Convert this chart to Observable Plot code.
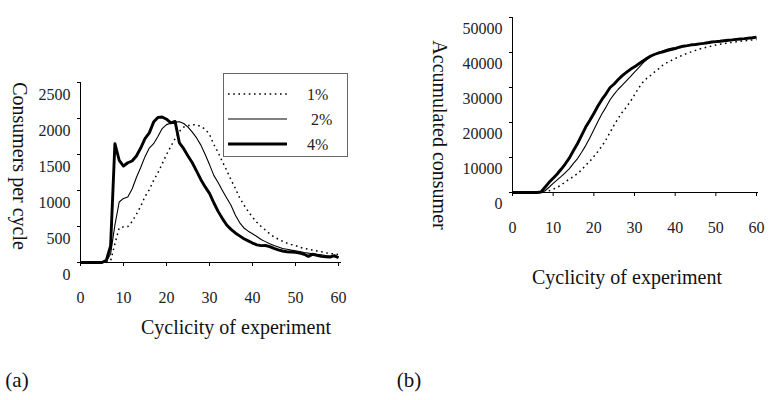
<!DOCTYPE html>
<html>
<head>
<meta charset="utf-8">
<script src="https://cdn.jsdelivr.net/npm/d3@7"></script>
<script src="https://cdn.jsdelivr.net/npm/@observablehq/plot@0.6"></script>
<style>
  body { margin: 0; background: #fff; }
  #fig { position: relative; width: 773px; height: 400px; background: #fff;
         font-family: "Liberation Serif", "Times New Roman", serif; color: #111; overflow: hidden; }
  #fig svg { font-family: "Liberation Serif", "Times New Roman", serif; }
  #fig svg text { font-family: "Liberation Serif", "Times New Roman", serif; }
  .abs { position: absolute; }
  .title { position: absolute; transform: translate(-50%, -50%); white-space: nowrap; font-size: 20px; }
  .vtitle { position: absolute; transform: translate(-50%, -50%); white-space: nowrap; font-size: 20px;
            writing-mode: vertical-rl; }
  .tag { position: absolute; transform: translate(-50%, -50%); font-size: 21px; }
</style>
</head>
<body>
<div id="fig">
  <div id="plotA" class="abs" style="left:0;top:0"></div>
  <div id="plotB" class="abs" style="left:386px;top:0"></div>
  <div id="legendA" class="abs" style="left:223px;top:73px"></div>
  <div class="title" style="left:236px;top:327px">Cyclicity of experiment</div>
  <div class="title" style="left:627px;top:277px">Cyclicity of experiment</div>
  <div class="vtitle" style="left:19px;top:166px">Consumers per cycle</div>
  <div class="vtitle" style="left:439px;top:135px">Accumulated consumer</div>
  <div class="tag" style="left:17px;top:380px">(a)</div>
  <div class="tag" style="left:409px;top:380px">(b)</div>
</div>
<script>
// Experiment cycles 0..60
const cycles = d3.range(0, 61);

// Consumers per cycle for each share
const perCycle1 = [0,0,0,0,0,0,0,20,260,480,495,500,570,670,780,917,1010,1140,1245,1370,1500,1610,1720,1820,1880,1900,1915,1910,1890,1850,1780,1640,1530,1400,1280,1150,1030,900,800,710,630,560,500,450,400,355,325,295,270,250,236,212,195,185,172,160,150,135,125,118,111];
const perCycle2 = [0,0,0,0,0,0,10,120,520,840,890,910,1020,1180,1320,1470,1590,1650,1750,1860,1915,1935,1950,1955,1930,1880,1810,1730,1630,1500,1360,1210,1110,1000,895,795,660,555,480,435,400,360,320,290,260,235,215,195,185,172,162,152,140,130,122,115,108,97,90,82,74];
const perCycle4 = [0,0,0,0,0,0,30,230,1650,1420,1340,1385,1410,1480,1590,1720,1800,1950,2015,2020,1990,1940,1960,1660,1580,1480,1385,1270,1150,1050,960,830,710,610,520,460,410,370,330,300,270,245,235,236,220,195,175,160,150,145,140,130,115,85,115,100,85,80,75,95,65];

// Accumulated consumers for each share
const accum1 = [0,0,0,0,0,0,0,0,150,500,900,1500,2100,3100,3800,4600,5400,6500,7800,8900,10300,11700,13300,15100,17200,19300,21200,22950,24400,26000,27900,29800,31400,32600,33500,34500,35400,36400,37100,37700,38300,38800,39300,39800,40200,40600,41000,41300,41600,41850,42150,42350,42550,42750,42900,43050,43200,43350,43450,43600,43700];
const accum2 = [0,0,0,0,0,0,0,50,500,1500,2600,3600,4600,5700,6800,8300,9700,11500,13400,15600,17900,20300,22500,24400,26500,28100,29500,30700,31900,33100,34400,35600,36900,38000,38800,39500,40100,40500,40900,41200,41400,41650,41850,42000,42150,42300,42400,42550,42700,42850,43000,43100,43250,43400,43500,43650,43750,43850,43950,44050,44200];
const accum4 = [0,0,0,0,0,0,0,150,1500,2900,4100,5300,6700,8200,9900,12000,14000,16300,18700,20600,22600,24700,26600,28200,30000,31000,32300,33400,34300,35200,35900,36700,37500,38300,39000,39500,39900,40200,40550,40850,41100,41500,41800,41950,42200,42300,42450,42600,42800,43000,43100,43200,43350,43500,43600,43750,43850,43950,44100,44200,44400];

// Axis ticks
const xTicks = [0, 10, 20, 30, 40, 50, 60];
const yTicksA = [0, 500, 1000, 1500, 2000, 2500];
const yTicksB = [0, 10000, 20000, 30000, 40000, 50000];

// Series names and line styles
const shares = ["1%", "2%", "4%"];
const lineStyles = {
  "1%": {strokeWidth: 1.5, strokeDasharray: "1.6,3.6"},
  "2%": {strokeWidth: 1.1},
  "4%": {strokeWidth: 2.9}
};

const perCycle = {"1%": perCycle1, "2%": perCycle2, "4%": perCycle4};
const accum = {"1%": accum1, "2%": accum2, "4%": accum4};

function rows(table) {
  return shares.map(s => cycles.map((c, i) => ({cycle: c, share: s, value: table[s][i]})));
}

function seriesMarks(table) {
  return rows(table).map(r => Plot.line(r, {
    x: "cycle", y: "value", stroke: "#000",
    strokeLinejoin: "round", strokeLinecap: "butt",
    ...lineStyles[r[0].share]
  }));
}

const plainNumber = d3.format("d");
const serif = "Liberation Serif";
const baseStyle = {fontFamily: serif, fontSize: "16px", color: "#222", background: "transparent", overflow: "visible"};

const plotA = Plot.plot({
  width: 386, height: 320,
  marginLeft: 80, marginRight: 48, marginTop: 82, marginBottom: 58,
  x: {domain: [0, 60]},
  y: {domain: [0, 2500]},
  style: baseStyle,
  marks: [
    Plot.axisY(yTicksA, {tickSize: 3, tickFormat: () => "", label: null, stroke: "#000"}),
    Plot.axisY(yTicksA, {tickSize: 0, tickPadding: 10, dy: 12, label: null, tickFormat: plainNumber, fontFamily: serif}),
    Plot.axisX(xTicks, {tickSize: 4, tickFormat: () => "", label: null, stroke: "#000"}),
    Plot.axisX(xTicks, {tickSize: 0, dy: 20, label: null, tickFormat: plainNumber, fontFamily: serif}),
    Plot.ruleX([0], {y1: 0, y2: 2500, stroke: "#000"}),
    Plot.ruleY([0], {stroke: "#000", insetRight: -3}),
    ...seriesMarks(perCycle)
  ]
});
document.getElementById("plotA").append(plotA);

const plotB = Plot.plot({
  width: 387, height: 250,
  marginLeft: 126, marginRight: 17, marginTop: 17, marginBottom: 58,
  x: {domain: [0, 60]},
  y: {domain: [0, 50000]},
  style: baseStyle,
  marks: [
    Plot.axisY(yTicksB, {tickSize: 3, tickFormat: () => "", label: null, stroke: "#000"}),
    Plot.axisY(yTicksB, {tickSize: 0, tickPadding: 10, dy: 11, label: null, tickFormat: plainNumber, fontFamily: serif}),
    Plot.axisX(xTicks, {tickSize: 4, tickFormat: () => "", label: null, stroke: "#000"}),
    Plot.axisX(xTicks, {tickSize: 0, dy: 20, label: null, tickFormat: plainNumber, fontFamily: serif}),
    Plot.ruleX([0], {y1: 0, y2: 50000, stroke: "#000"}),
    Plot.ruleY([0], {stroke: "#000", insetRight: -2}),
    ...seriesMarks(accum)
  ]
});
document.getElementById("plotB").append(plotB);

// Legend box for panel (a)
const legendW = 125, legendH = 84;
const leg = d3.select("#legendA").append("svg")
  .attr("width", legendW).attr("height", legendH)
  .style("font-family", serif).style("font-size", "16px");
leg.append("rect").attr("x", 0.5).attr("y", 0.5).attr("width", legendW - 1).attr("height", legendH - 1)
  .attr("fill", "#fff").attr("stroke", "#666");
shares.forEach((s, i) => {
  const cy = 21 + i * 25;
  const st = lineStyles[s];
  leg.append("line").attr("x1", 5).attr("x2", 64).attr("y1", cy).attr("y2", cy)
    .attr("stroke", "#000").attr("stroke-width", st.strokeWidth)
    .attr("stroke-dasharray", st.strokeDasharray || null);
  leg.append("text").attr("x", i === 1 ? 88 : 84).attr("y", cy).attr("dy", "0.35em")
    .attr("fill", "#222").text(s);
});
</script>
</body>
</html>
